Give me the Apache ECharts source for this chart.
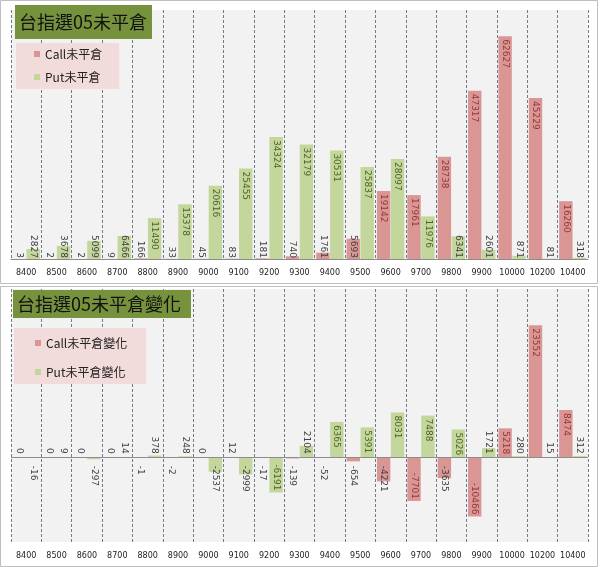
<!DOCTYPE html>
<html>
<head>
<meta charset="utf-8">
<script src="https://cdn.jsdelivr.net/npm/echarts@6/dist/echarts.min.js"></script>
<style>
html,body{margin:0;padding:0;background:#fff;}
#c{width:600px;height:567px;}
</style>
</head>
<body>
<div id="c"></div>
<script>
const strikes = ['8400','8500','8600','8700','8800','8900','9000','9100','9200','9300','9400','9500','9600','9700','9800','9900','10000','10200','10400'];
const callOI = [3,2,2,9,166,33,45,83,181,740,1761,5693,19142,17961,28738,47317,62627,45229,16260];
const putOI = [2827,3678,5099,6466,11490,15378,20616,25455,34324,32179,30531,25837,28097,11976,6341,2601,871,81,318];
const callChg = [0,0,0,0,-1,-2,0,12,-17,-139,-52,-654,-4221,-7701,-3635,-10466,5218,23552,8474];
const putChg = [-16,9,-297,14,378,248,-2537,-2999,-6191,2104,6365,5391,8031,7488,5026,1721,280,15,312];

const CALL = '#d99694', PUT = '#c3d69b';
const CALL_TXT = '#953735', PUT_TXT = '#4f6228', GRAY_TXT = '#404040';

function build(vals, range, plotH, txtColor, posGap) {
  return vals.map(v => {
    const len = Math.abs(v) / range * plotH;
    const txt = String(v).length * 5.7 + 2;
    const fits = len >= txt;
    let lab;
    if (v >= 0) {
      lab = fits ? {position: 'insideTop', align: 'left', distance: 3, color: txtColor}
                 : {position: 'insideBottom', align: 'right', distance: posGap, color: GRAY_TXT};
    } else {
      lab = fits ? {position: 'insideBottom', align: 'right', distance: 2, color: txtColor}
                 : {position: 'insideTop', align: 'left', distance: 8, color: GRAY_TXT};
    }
    return {value: v, label: lab};
  });
}

const labelBase = {show: true, rotate: -90, fontSize: 9, fontFamily: 'DejaVu Sans', verticalAlign: 'middle'};

const xAxisBase = {
  type: 'category', data: strikes, boundaryGap: true,
  axisTick: {show: false},
  axisLabel: {fontSize: 8, fontFamily: 'DejaVu Sans', color: '#222', margin: 10, interval: 0},
  splitLine: {show: true, lineStyle: {type: [3, 2], color: '#6f7b8a', width: 1}}
};

const chart = echarts.init(document.getElementById('c'));
chart.setOption({
  animation: false,
  backgroundColor: '#fff',
  graphic: [
    {type: 'rect', shape: {x: 0.5, y: 0.5, width: 597, height: 283}, style: {fill: 'none', stroke: '#bfbfbf', lineWidth: 1}, z: -10},
    {type: 'rect', shape: {x: 0.5, y: 286.5, width: 597, height: 280}, style: {fill: 'none', stroke: '#bfbfbf', lineWidth: 1}, z: -10}
  ],
  title: [
    {text: '台指選05未平倉', left: 15, top: 5, backgroundColor: '#76923c', padding: [8, 5, 8, 4],
     textStyle: {fontSize: 18, fontWeight: 'normal', fontFamily: 'Noto Sans CJK TC', color: '#111'}},
    {text: '台指選05未平倉變化', left: 13, top: 290, backgroundColor: '#76923c', padding: [5, 10, 5, 4],
     textStyle: {fontSize: 18, fontWeight: 'normal', fontFamily: 'Noto Sans CJK TC', color: '#111'}}
  ],
  legend: [
    {data: ['Call未平倉', 'Put未平倉'], orient: 'vertical', left: 16, top: 43,
     backgroundColor: '#f2dcdb', padding: [5, 17, 6, 18], itemGap: 11, itemWidth: 6, itemHeight: 6, icon: 'rect',
     textStyle: {fontSize: 12, fontFamily: 'Noto Sans CJK TC', color: '#222'}},
    {data: ['Call未平倉變化', 'Put未平倉變化'], orient: 'vertical', left: 14, top: 328,
     backgroundColor: '#f2dcdb', padding: [9, 19, 6, 21], itemGap: 17, itemWidth: 6, itemHeight: 6, icon: 'rect',
     textStyle: {fontSize: 12, fontFamily: 'Noto Sans CJK TC', color: '#222'}}
  ],
  grid: [
    {left: 11, right: 12, top: 10, bottom: 308, show: true, backgroundColor: '#f2f2f2', borderWidth: 0},
    {left: 11, right: 12, top: 289, bottom: 25, show: true, backgroundColor: '#f2f2f2', borderWidth: 0}
  ],
  xAxis: [
    Object.assign({}, xAxisBase, {gridIndex: 0, axisLine: {show: true, lineStyle: {color: '#8c8c8c'}}}),
    Object.assign({}, xAxisBase, {gridIndex: 1, axisLine: {show: false, onZero: false}})
  ],
  yAxis: [
    {type: 'value', gridIndex: 0, min: 0, max: 70000, show: false, splitLine: {show: false}},
    {type: 'value', gridIndex: 1, min: -15000, max: 30000, show: false, splitLine: {show: false}}
  ],
  series: [
    {name: 'Call未平倉', type: 'bar', xAxisIndex: 0, yAxisIndex: 0, barGap: '4%', barCategoryGap: '10%',
     itemStyle: {color: CALL}, label: labelBase, data: build(callOI, 70000, 249, CALL_TXT, 1)},
    {name: 'Put未平倉', type: 'bar', xAxisIndex: 0, yAxisIndex: 0, barGap: '4%', barCategoryGap: '10%',
     itemStyle: {color: PUT}, label: labelBase, data: build(putOI, 70000, 249, PUT_TXT, 1)},
    {name: 'Call未平倉變化', type: 'bar', xAxisIndex: 1, yAxisIndex: 1, barGap: '4%', barCategoryGap: '10%',
     itemStyle: {color: CALL}, label: labelBase, data: build(callChg, 45000, 253, CALL_TXT, 4),
     markLine: {silent: true, symbol: 'none', label: {show: false}, lineStyle: {color: '#8c8c8c', type: 'solid', width: 1},
       data: [{yAxis: 0}]}},
    {name: 'Put未平倉變化', type: 'bar', xAxisIndex: 1, yAxisIndex: 1, barGap: '4%', barCategoryGap: '10%',
     itemStyle: {color: PUT}, label: labelBase, data: build(putChg, 45000, 253, PUT_TXT, 4)}
  ]
});
</script>
</body>
</html>
